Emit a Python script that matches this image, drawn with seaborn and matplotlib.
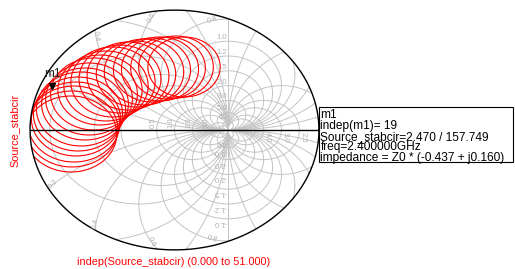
import numpy as np
import pandas as pd
import matplotlib
matplotlib.use("Agg")
import matplotlib.pyplot as plt
import seaborn as sns
from matplotlib.patches import Circle, Rectangle

# source stability circles, one per frequency point (gamma plane)
circ_gx = [0.178, 0.028, -0.121, -0.271, -0.421, -0.570, -0.720, -0.869, -1.019, -1.150, -1.280,
           -1.393, -1.505, -1.598, -1.673, -1.748, -1.804, -1.841, -1.879, -1.916, -1.935]
circ_gy = [1.419, 1.419, 1.396, 1.374, 1.351, 1.306, 1.261, 1.216, 1.149, 1.081, 0.991,
           0.901, 0.811, 0.698, 0.586, 0.473, 0.360, 0.248, 0.135, 0.023, -0.090]
circ_rad = [0.676, 0.698, 0.698, 0.721, 0.721, 0.743, 0.743, 0.766, 0.766, 0.788, 0.788,
            0.788, 0.811, 0.811, 0.811, 0.833, 0.833, 0.833, 0.856, 0.856, 0.856]

# marker m1
m1_mag = 2.470
m1_ang = 157.749
m1_lines = ["m1", "indep(m1)= 19", "Source_stabcir=2.470 / 157.749",
            "freq=2.400000GHz", "impedance = Z0 * (-0.437 + j0.160)"]

# chart grid
R_OUT = 2.70
r_pos = [0.0, 0.5, 1.0, 2.0, 5.0, 10.0]
r_pos_lab = [0.5, 1.0, 2.0, 5.0]
r_neg = [-0.2, -0.4, -0.6, -0.8, -1.2, -1.5, -2.0, -2.5, -3.0, -4.0, -5.0]
r_neg_lab = [-2.5, -3.0, -4.0]
x_vals = [0.2, 0.4, 0.6, 0.8, 1.0, 1.2, 1.5, 2.0, 3.0, 5.0, 10.0]
x_small_lab = [0.2, 0.4, 0.6, 0.8]
x_big_lab = [1.0, 1.2, 1.5, 2.0, 3.0, 5.0, 10.0]

W, H = 515, 269
SX, SY = 53.5, 44.4   # px per gamma unit
CX, CY = 174.5, 130.0

sns.set_theme(style="white")
plt.rcParams["font.family"] = ["Liberation Sans", "DejaVu Sans"]

fig = plt.figure(figsize=(W / 100, H / 100), dpi=100)
left, right, top, bot = 26, 323, 6, 254
ax = fig.add_axes([left / W, 1 - bot / H, (right - left) / W, (bot - top) / H])
ax.set_xlim((left - CX) / SX, (right - CX) / SX)
ax.set_ylim((CY - bot) / SY, (CY - top) / SY)
ax.set_axis_off()

rim = Circle((0, 0), R_OUT, transform=ax.transData, fill=False)
t = np.linspace(0, 2 * np.pi, 1500)
GRID = "#c4c4c4"


def draw_circle(cx, cy, rad, **kw):
    ln, = ax.plot(cx + rad * np.cos(t), cy + rad * np.sin(t), **kw)
    ln.set_clip_path(rim)


for r in r_pos + r_neg:
    draw_circle(r / (1 + r), 0, 1 / abs(1 + r), color=GRID, lw=0.7)
for x in x_vals:
    draw_circle(1, 1 / x, 1 / x, color=GRID, lw=0.7)
    draw_circle(1, -1 / x, 1 / x, color=GRID, lw=0.7)
ln, = ax.plot([1, 1], [-R_OUT, R_OUT], color=GRID, lw=0.7)
ln.set_clip_path(rim)

# stability circles
rows = []
for i, (gx, gy, rr) in enumerate(zip(circ_gx, circ_gy, circ_rad)):
    rows.append(pd.DataFrame({"gx": gx + rr * np.cos(t[::5]), "gy": gy + rr * np.sin(t[::5]), "idx": i}))
df = pd.concat(rows)
n0 = len(ax.lines)
sns.lineplot(data=df, x="gx", y="gy", units="idx", estimator=None, sort=False,
             color="red", lw=0.8, ax=ax, legend=False)
for ln in ax.lines[n0:]:
    ln.set_clip_path(rim)
ax.set_axis_off()

# rim and real axis
ax.plot(R_OUT * np.cos(t), R_OUT * np.sin(t), color="black", lw=1.0, clip_on=False)
ax.plot([-R_OUT, R_OUT], [0, 0], color="black", lw=1.0)

# grid labels
LS = dict(color="#b0b0b0", fontsize=5.5, rotation_mode="anchor")
for r in r_pos_lab:
    ax.text((r - 1) / (r + 1), 0.04, f"{r:.1f}", rotation=90, ha="left", va="bottom", **LS)
for r in r_neg_lab:
    ax.text((r - 1) / (r + 1), -0.04, f"{-r:.1f}", rotation=-90, ha="left", va="bottom", **LS)
for x in x_big_lab:
    lab = f"{x:.1f}" if x < 10 else f"{x:.0f}"
    ax.text(0.98, 2 / x, lab, ha="right", va="bottom", **LS)
    ax.text(0.98, -2 / x, "-" + lab, rotation=180, ha="left", va="bottom", **LS)
for x in x_small_lab:
    c = 1 / x
    gx = 1 + c * np.cos(t)
    gy = c + c * np.sin(t)
    d = np.hypot(gx, gy) - 0.95 * R_OUT
    k = np.where(np.sign(d[:-1]) != np.sign(d[1:]))[0]
    k = k[np.argmax(np.abs(gy[k]))]
    px, py = gx[k], gy[k]
    ang = np.degrees(np.arctan2((py - c) * SY, (px - 1) * SX)) + 90
    ang = (ang + 90) % 180 - 90
    ax.text(px, py, f"{x:.1f}", rotation=ang, ha="center", va="center", **LS)
    ax.text(px, -py, f"{x:.1f}", rotation=-ang, ha="center", va="center", **LS)

# marker m1
mx = m1_mag * np.cos(np.radians(m1_ang))
my = m1_mag * np.sin(np.radians(m1_ang))
ax.plot([mx], [my + 0.05], marker="v", color="black", ms=5)
ax.text(mx, my + 0.2, "m1", color="#222222", fontsize=8.5, ha="center", va="bottom")

# marker readout
fig.add_artist(Rectangle((319 / W, 1 - 162 / H), 194 / W, 55 / H, transform=fig.transFigure,
                         fill=False, lw=0.8, ec="black"))
fig.text(320.5 / W, 1 - 109 / H, "\n".join(m1_lines), fontsize=8.6, color="black",
         va="top", ha="left", linespacing=0.87)

fig.text(15 / W, 1 - 130 / H, "Source_stabcir", rotation=90, color="red", fontsize=7.8,
         ha="center", va="center")
fig.text(174 / W, 1 - 262 / H, "indep(Source_stabcir) (0.000 to 51.000)", color="red",
         fontsize=7.8, ha="center", va="center")

fig.savefig("out.png", dpi=100)
